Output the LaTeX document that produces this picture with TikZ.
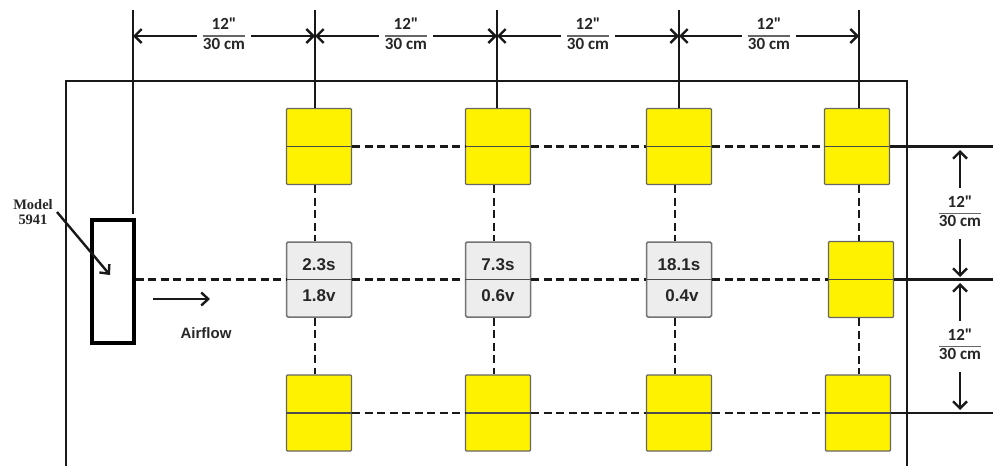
\documentclass[tikz,border=0pt]{standalone}
\usepackage{fontspec}
\setmainfont{Liberation Sans}
\newfontfamily\calib{Carlito}
\newfontfamily\modelfont{Liberation Serif}
\usetikzlibrary{arrows.meta}
\usepackage{colortbl}
\newcommand\dimfrac[2]{\setlength{\arrayrulewidth}{1.3pt}\arrayrulecolor{black!60}\begin{tabular}{@{}c@{}}#1\\\hline #2\end{tabular}}
\begin{document}
\begin{tikzpicture}[x=1pt,y=-1pt,
  solid line/.style={line width=2.9pt, black!90},
  dashline/.style={line width=2.9pt, dash pattern=on 8pt off 4.5pt, black!90},
  ybox/.style={draw=black!60, fill=yellow, minimum width=65pt, minimum height=76pt, line width=1.3pt, inner sep=0pt, rounded corners=1pt},
  gbox/.style={draw=black!55, fill=black!7, minimum width=65pt, minimum height=75pt, line width=1.5pt, inner sep=0pt, rounded corners=1.5pt},
  splitline/.style={line width=1.5pt, black!70},
  dimarrow/.style={line width=2.4pt, black!90, {Straight Barb[length=7pt,width=14pt]}-{Straight Barb[length=7pt,width=14pt]}},
  dimlab/.style={fill=white, inner xsep=6pt, inner ysep=7pt, text=black!85, font=\calib\bfseries\fontsize{17}{18}\selectfont},
  val/.style={text=black!85, font=\bfseries\fontsize{17}{17}\selectfont},
  sensor/.style={draw, line width=3.2pt, minimum width=42pt, minimum height=123pt, inner sep=0pt}
]
\useasboundingbox (0,0) rectangle (997,466);

% frame
\draw[solid line] (66,466) -- (66,81) -- (907,81) -- (907,466);

% boxes
\node[ybox] (t1) at (319,146.5) {};
\node[ybox] (t2) at (498,146.5) {};
\node[ybox] (t3) at (679,146.5) {};
\node[ybox] (t4) at (857,146.5) {};
\node[gbox] (m1) at (319,279.5) {};
\node[gbox] (m2) at (498,279.5) {};
\node[gbox] (m3) at (679,279.5) {};
\node[ybox] (m4) at (861,279.5) {};
\node[ybox] (b1) at (319,413) {};
\node[ybox] (b2) at (498,413) {};
\node[ybox] (b3) at (679,413) {};
\node[ybox] (b4) at (858,413) {};
\foreach \n in {t1,t2,t3,t4,m1,m2,m3,m4,b1,b2,b3,b4}
  \draw[splitline] (\n.west) -- (\n.east);

% values
\node[val] (v1s) at ([yshift=15pt]m1.center) {2.3s};
\node[val] (v1v) at ([yshift=-16pt]m1.center) {1.8v};
\node[val] (v2s) at ([yshift=15pt]m2.center) {7.3s};
\node[val] (v2v) at ([yshift=-16pt]m2.center) {0.6v};
\node[val] (v3s) at ([yshift=15pt]m3.center) {18.1s};
\node[val] (v3v) at ([yshift=-16pt,xshift=3pt]m3.center) {0.4v};

% sensor
\node[sensor] (s) at (113,281.5) {};

% dashed grid
\draw[dashline] (t1.east) -- (t2.west);
\draw[dashline] (t2.east) -- (t3.west);
\draw[dashline] (t3.east) -- (t4.west);
\draw[dashline] (s.east |- m1.west) -- (m1.west);
\draw[dashline] (m1.east) -- (m2.west);
\draw[dashline] (m2.east) -- (m3.west);
\draw[dashline] (m3.east) -- (m4.west);
\draw[dashline] (b1.east) -- (b2.west);
\draw[dashline] (b2.east) -- (b3.west);
\draw[dashline] (b3.east) -- (b4.west);
\foreach \c in {1,2,3} {
  \draw[dashline] ([xshift=-4pt]t\c.south) -- ([xshift=-4pt]m\c.north);
  \draw[dashline] ([xshift=-4pt]m\c.south) -- ([xshift=-4pt]b\c.north);
}
\draw[dashline] ([xshift=2pt]t4.south) -- ([xshift=-2pt]m4.north);
\draw[dashline] ([xshift=-2pt]m4.south) -- ([xshift=1pt]b4.north);

% vertical extension lines
\coordinate (e0t) at (133,10);
\coordinate (e0b) at (133,214);
\coordinate (e1t) at (315,10);
\coordinate (e2t) at (497,10);
\coordinate (e3t) at (679,10);
\coordinate (e4t) at (859,10);
\draw[solid line] (e0t) -- (e0b);
\draw[solid line] (e1t) -- (e1t |- t1.north);
\draw[solid line] (e2t) -- (e2t |- t2.north);
\draw[solid line] (e3t) -- (e3t |- t3.north);
\draw[solid line] (e4t) -- (e4t |- t4.north);

% horizontal dimension arrows
\coordinate (d0) at (133,36);
\coordinate (d1) at (315,36);
\coordinate (d2) at (497,36);
\coordinate (d3) at (679,36);
\coordinate (d4) at (859,36);
\draw[dimarrow] (d0) -- (d1) node[midway, dimlab] (l1) {\dimfrac{12"}{30 cm}};
\draw[dimarrow] (d1) -- (d2) node[midway, dimlab] (l2) {\dimfrac{12"}{30 cm}};
\draw[dimarrow] (d2) -- (d3) node[midway, dimlab] (l3) {\dimfrac{12"}{30 cm}};
\draw[dimarrow] (d3) -- (d4) node[midway, dimlab] (l4) {\dimfrac{12"}{30 cm}};

% right extension lines
\coordinate (r1) at (993,146.5);
\coordinate (r2) at (993,279.5);
\coordinate (r3) at (993,413);
\draw[solid line] (t4.east) -- (r1);
\draw[solid line] (m4.east) -- (r2);
\draw[solid line] (b4.east) -- (r3);

% vertical dimension arrows
\coordinate (u1) at (960,150);
\coordinate (u2) at (960,277);
\coordinate (u3) at (960,283);
\coordinate (u4) at (960,410);
\draw[dimarrow] (u1) -- (u2) node[midway, dimlab] (l5) {\dimfrac{12"}{30 cm}};
\draw[dimarrow] (u3) -- (u4) node[midway, dimlab] (l6) {\dimfrac{12"}{30 cm}};

% model label
\node[font=\modelfont\bfseries\fontsize{14.5}{15}\selectfont, text=black!85, align=center] (ml) at (33,212) {Model\\5941};
\coordinate (mt) at (110,275);
\draw[line width=2.4pt, black!90, -{Straight Barb[length=7pt,width=13pt]}] (57,212) -- (mt);

% airflow
\coordinate (af1) at (153,299);
\coordinate (af2) at (210,299);
\draw[line width=2.4pt, black!90, -{Straight Barb[length=7pt,width=13pt]}] (af1) -- (af2);
\node[font=\bfseries\fontsize{15}{16}\selectfont, text=black!85] (afl) at (206,333) {Airflow};
\end{tikzpicture}
\end{document}
